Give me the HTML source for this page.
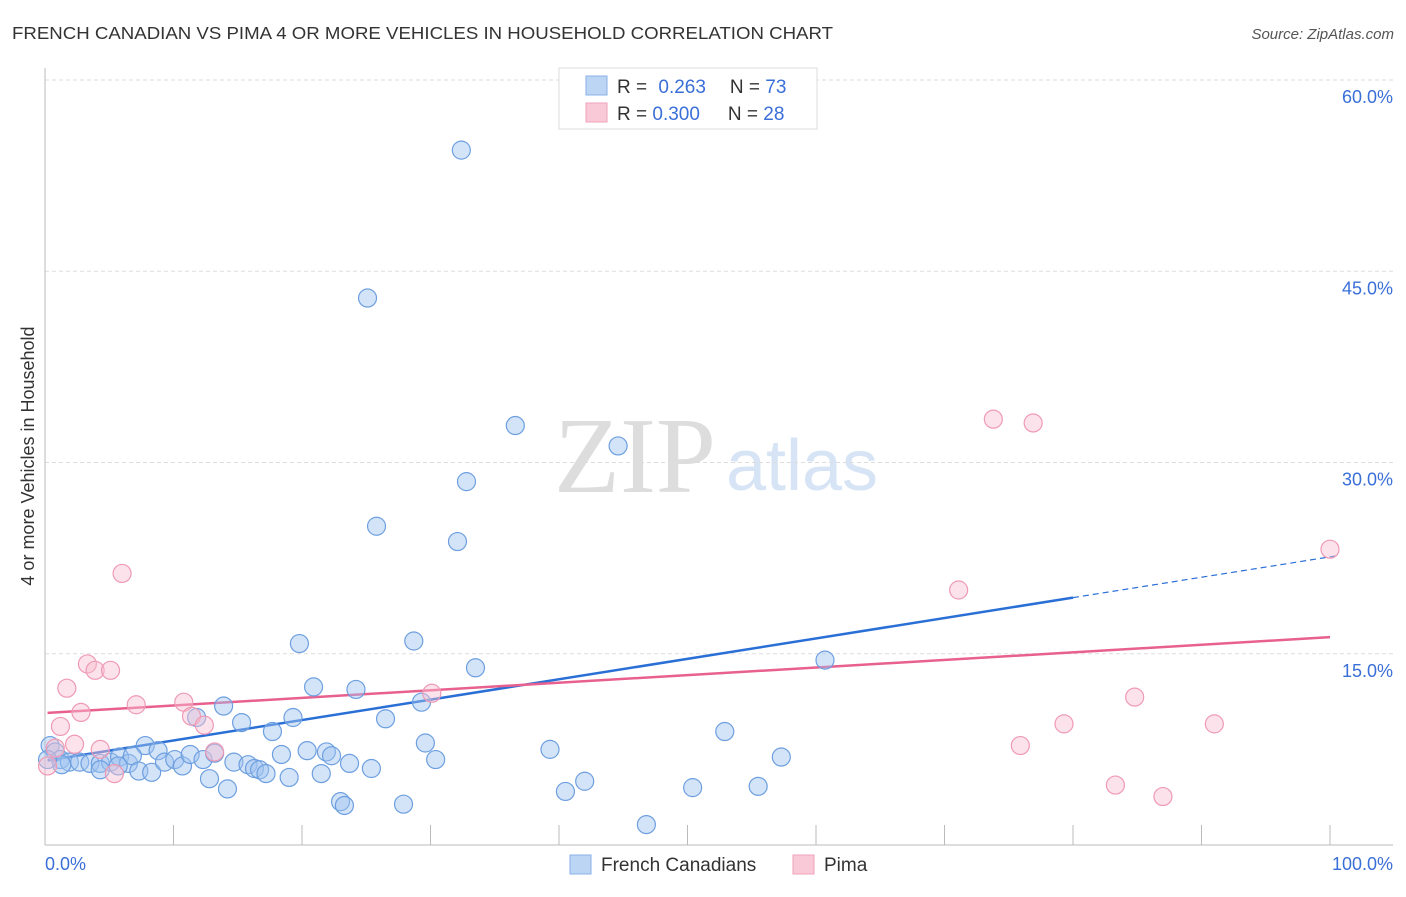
<!DOCTYPE html>
<html><head><meta charset="utf-8"><style>
body{margin:0;background:#fff;font-family:"Liberation Sans",sans-serif}
</style></head><body>
<svg width="1406" height="892" viewBox="0 0 1406 892" xmlns="http://www.w3.org/2000/svg" font-family="Liberation Sans, sans-serif">
<text x="12" y="39" font-size="17.5" fill="#333" textLength="821" lengthAdjust="spacingAndGlyphs">FRENCH CANADIAN VS PIMA 4 OR MORE VEHICLES IN HOUSEHOLD CORRELATION CHART</text>
<text x="1394" y="39" font-size="15" fill="#555" text-anchor="end" font-style="italic">Source: ZipAtlas.com</text>
<g>
<text x="635" y="492" font-size="108" fill="#ddd" text-anchor="middle" font-family="Liberation Serif, serif">ZIP</text>
<text x="802" y="490" font-size="72" fill="#d6e4f5" text-anchor="middle">atlas</text>
</g>
<g id="grid"></g>
<g id="axes"></g>
<text transform="translate(34,456) rotate(-90)" font-size="18" fill="#333" text-anchor="middle">4 or more Vehicles in Household</text>
<g id="lines"></g>
<g id="points"></g>
<g>
<rect x="559" y="68" width="258" height="61" fill="#fff" stroke="#ddd"/>
<rect x="586" y="76" width="21" height="19" fill="#bcd5f5" stroke="#8ab0e8"/>
<rect x="586" y="103" width="21" height="19" fill="#f9c9d7" stroke="#eea3ba"/>
<text x="617" y="93" font-size="19" fill="#333">R = <tspan fill="#3a6fd8" dx="6">0.263</tspan><tspan dx="24">N = </tspan><tspan fill="#3a6fd8">73</tspan></text>
<text x="617" y="120" font-size="19" fill="#333">R = <tspan fill="#3a6fd8">0.300</tspan><tspan dx="28">N = </tspan><tspan fill="#3a6fd8">28</tspan></text>
</g>
<g>
<rect x="570" y="855" width="21" height="19" fill="#bcd5f5" stroke="#8ab0e8"/>
<text x="601" y="871" font-size="19" fill="#333">French Canadians</text>
<rect x="793" y="855" width="21" height="19" fill="#f9c9d7" stroke="#eea3ba"/>
<text x="824" y="871" font-size="19" fill="#333">Pima</text>
</g>
</svg>
<script>
const yTicks=[15,30,45,60];
const yTickLabels=["15.0%","30.0%","45.0%","60.0%"];
const xTicks=[0,10,20,30,40,50,60,70,80,90,100];
const blueX=[32.4,25.1,36.6,44.6,32.8,25.8,32.1,19.8,28.7,33.5,60.7,20.9,24.2,29.3,13.9,11.8,19.3,26.5,15.3,17.7,52.9,7.8,8.8,29.6,39.3,0.4,0.8,1.2,1.9,2.7,3.5,4.3,5.1,5.8,6.5,6.8,7.3,8.3,9.3,10.1,10.7,11.3,12.3,12.8,13.2,14.2,14.7,15.8,16.3,16.7,17.2,18.4,19.0,20.4,21.5,21.9,22.3,23.7,25.4,30.4,42.0,40.5,50.4,55.5,57.3,23.0,23.3,27.9,46.8,1.3,0.2,5.7,4.3];
const blueY=[54.5,42.9,32.9,31.3,28.5,25.0,23.8,15.8,16.0,13.9,14.5,12.4,12.2,11.2,10.9,10.0,10.0,9.9,9.6,8.9,8.9,7.8,7.4,8.0,7.5,7.8,7.3,6.7,6.5,6.5,6.4,6.4,6.5,6.9,6.4,7.0,5.8,5.7,6.5,6.7,6.2,7.1,6.7,5.2,7.2,4.4,6.5,6.3,6.0,5.9,5.6,7.1,5.3,7.4,5.6,7.3,7.0,6.4,6.0,6.7,5.0,4.2,4.5,4.6,6.9,3.4,3.1,3.2,1.6,6.3,6.7,6.2,5.9];
const pinkX=[100,73.8,76.9,71.1,6.0,3.3,3.9,5.1,1.7,2.8,7.1,10.8,11.4,12.4,30.1,1.2,2.3,4.3,5.4,13.2,84.8,79.3,91.0,75.9,83.3,87.0,0.2,0.8];
const pinkY=[23.2,33.4,33.1,20.0,21.3,14.2,13.7,13.7,12.3,10.4,11.0,11.2,10.1,9.4,11.9,9.3,7.9,7.5,5.6,7.3,11.6,9.5,9.5,7.8,4.7,3.8,6.2,7.6];
const blueTrend=[6.6,0.16];
const pinkTrend=[10.35,0.0595];
const NS="http://www.w3.org/2000/svg";
const X=p=>45+12.85*p, Y=v=>845-12.75*v;
function mk(t,a,parent){const e=document.createElementNS(NS,t);for(const k in a)e.setAttribute(k,a[k]);document.getElementById(parent).appendChild(e);return e;}
yTicks.forEach((t,i)=>{
 const g=mk('line',{x1:45,x2:1393,y1:Y(t),y2:Y(t),stroke:'#ddd','stroke-dasharray':'4,3'},'grid');
 
 
 const l=mk('text',{x:1393,y:Y(t)+23,'font-size':18,fill:'#3a6fd8','text-anchor':'end'},'grid');
 l.textContent=yTickLabels[i];
 
 
});
const ax=mk('line',{x1:45,x2:45,y1:68,y2:845,stroke:'#bbb'},'axes');


const bx=mk('line',{x1:45,x2:1393,y1:845,y2:845,stroke:'#bbb'},'axes');


xTicks.forEach(t=>{
 const tk=mk('line',{x1:X(t),x2:X(t),y1:825,y2:845,stroke:'#bbb'},'axes');
 
 
});
const xl0=mk('text',{x:45,y:870,'font-size':18,fill:'#3a6fd8'},'axes');xl0.textContent='0.0%';


const xl1=mk('text',{x:1393,y:870,'font-size':18,fill:'#3a6fd8','text-anchor':'end'},'axes');xl1.textContent='100.0%';


blueX.forEach((x,i)=>{
 const c=mk('circle',{cx:X(x),cy:Y(blueY[i]),r:9,fill:'rgba(160,195,240,0.45)',stroke:'#6d9fe0','stroke-width':1.2},'points');
 
 
});
pinkX.forEach((x,i)=>{
 const c=mk('circle',{cx:X(x),cy:Y(pinkY[i]),r:9,fill:'rgba(248,190,208,0.45)',stroke:'#ef9ab5','stroke-width':1.2},'points');
 
 
});
const bl=mk('line',{x1:X(0.2),y1:Y(blueTrend[0]+blueTrend[1]*0.2),x2:X(80),y2:Y(blueTrend[0]+blueTrend[1]*80),stroke:'#2a6fd6','stroke-width':2.5},'lines');


const bd=mk('line',{x1:X(80),y1:Y(blueTrend[0]+blueTrend[1]*80),x2:X(100.5),y2:Y(blueTrend[0]+blueTrend[1]*100.5),stroke:'#2a6fd6','stroke-width':1.2,'stroke-dasharray':'6,4'},'lines');


const pl=mk('line',{x1:X(0.2),y1:Y(pinkTrend[0]+pinkTrend[1]*0.2),x2:X(100),y2:Y(pinkTrend[0]+pinkTrend[1]*100),stroke:'#e8608e','stroke-width':2.5},'lines');


</script>
</body></html>
